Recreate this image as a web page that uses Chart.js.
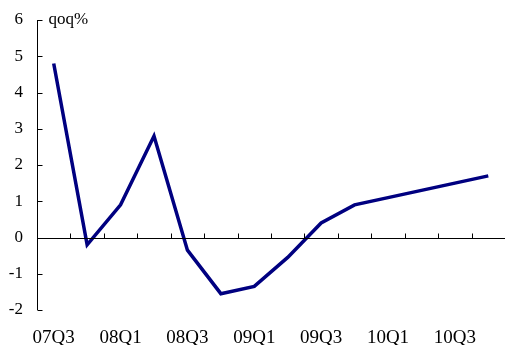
<!DOCTYPE html>
<html>
<head>
<meta charset="utf-8">
<script src="https://cdn.jsdelivr.net/npm/chart.js@4.4.1/dist/chart.umd.min.js"></script>
<style>
  html, body { margin: 0; padding: 0; background: #fff; }
  #wrap { width: 505px; height: 345px; }
</style>
</head>
<body>
<div id="wrap"><canvas id="growthChart"></canvas></div>
<script>
const quarters = ['07Q3', '07Q4', '08Q1', '08Q2', '08Q3', '08Q4', '09Q1', '09Q2', '09Q3', '09Q4', '10Q1', '10Q2', '10Q3', '10Q4'];
const qoqGrowth = [4.8, -0.2, 0.9, 2.8, -0.35, -1.55, -1.35, -0.55, 0.4, 0.9, 1.1, 1.3, 1.5, 1.7];
const yTicks = [-2, -1, 0, 1, 2, 3, 4, 5, 6];
const unitLabel = 'qoq%';

const serif = '"Liberation Serif", "Times New Roman", serif';

// axis line, inward tick marks and the unit label
const axisMarks = {
    id: 'axisMarks',
    afterDraw(chart) {
        const { ctx, chartArea, scales } = chart;
        const x = scales.x, y = scales.y;
        ctx.save();
        ctx.strokeStyle = '#000';
        ctx.lineWidth = 1;
        ctx.beginPath();
        const ax = Math.round(chartArea.left) + 0.5;
        ctx.moveTo(ax, y.getPixelForValue(yTicks[yTicks.length - 1]));
        ctx.lineTo(ax, y.getPixelForValue(yTicks[0]));
        yTicks.forEach(v => {
            const py = Math.round(y.getPixelForValue(v)) + 0.5;
            ctx.moveTo(ax, py);
            ctx.lineTo(ax + 5, py);
        });
        const zy = Math.round(y.getPixelForValue(0)) + 0.5;
        ctx.moveTo(ax, zy);
        ctx.lineTo(chartArea.right, zy);
        for (let i = 1; i < quarters.length; i++) {
            const px = Math.round((x.getPixelForValue(i - 1) + x.getPixelForValue(i)) / 2) + 0.5;
            ctx.moveTo(px, zy);
            ctx.lineTo(px, zy - 5);
        }
        ctx.stroke();

        ctx.fillStyle = '#000';
        ctx.font = '17px ' + serif;
        ctx.textBaseline = 'alphabetic';
        ctx.fillText(unitLabel, ax + 11, 24);
        ctx.restore();
    }
};

const ctx = document.getElementById('growthChart').getContext('2d');
new Chart(ctx, {
    type: 'line',
    data: {
        labels: quarters,
        datasets: [{
            data: qoqGrowth,
            borderColor: '#000080',
            borderWidth: 3.5,
            pointRadius: 0,
            tension: 0,
            fill: false
        }]
    },
    options: {
        responsive: true,
        maintainAspectRatio: false,
        animation: false,
        layout: { padding: { top: 20, right: 0, bottom: 0, left: 0 } },
        plugins: {
            legend: { display: false },
            tooltip: { enabled: false }
        },
        scales: {
            x: {
                type: 'category',
                offset: true,
                grid: { display: false, drawTicks: false },
                border: { display: false },
                ticks: {
                    autoSkip: false,
                    maxRotation: 0,
                    padding: 17,
                    color: '#000',
                    font: { family: serif, size: 19 },
                    callback: (val, i) => (i % 2 === 0 ? quarters[i] : '')
                },
                afterFit: (scale) => {
                    scale.height = 35;
                    scale.paddingLeft = 0;
                    scale.paddingRight = 0;
                }
            },
            y: {
                min: -2,
                max: 6,
                grid: { display: false, drawTicks: false },
                border: { display: false },
                ticks: {
                    stepSize: 1,
                    padding: 14,
                    color: '#000',
                    font: { family: serif, size: 17 }
                },
                afterFit: (scale) => {
                    scale.width = 37;
                    scale.paddingTop = 0;
                    scale.paddingBottom = 0;
                }
            }
        }
    },
    plugins: [axisMarks]
});
</script>
</body>
</html>
